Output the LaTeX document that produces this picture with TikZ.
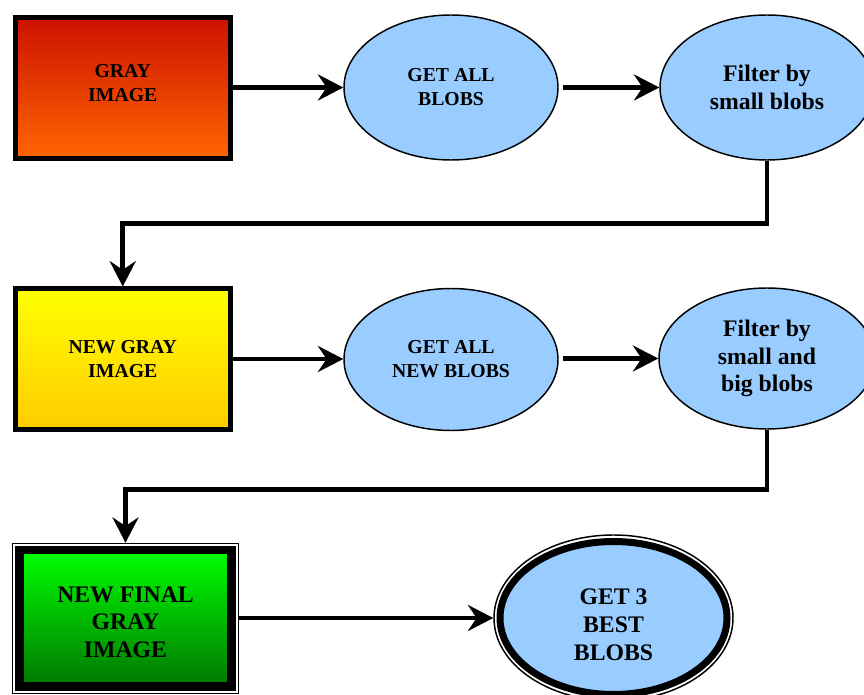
\documentclass[tikz,border=0pt]{standalone}
\usepackage{fontspec}
\setmainfont{Liberation Serif}
\usetikzlibrary{shapes.geometric,arrows.meta}
\definecolor{blobblue}{RGB}{153,204,255}
\definecolor{redtop}{RGB}{204,17,0}
\definecolor{redbot}{RGB}{255,102,0}
\definecolor{yeltop}{RGB}{255,255,0}
\definecolor{yelbot}{RGB}{255,204,0}
\definecolor{grntop}{RGB}{0,255,0}
\definecolor{grnbot}{RGB}{0,119,0}
\begin{document}
\begin{tikzpicture}[x=0.75pt,y=-0.75pt,
  conn/.style={line width=3.6pt, -{Stealth[length=19pt,width=19.5pt,inset=6.5pt]}},
  smalltext/.style={font=\fontsize{14.8}{18}\selectfont\bfseries, align=center},
  bigtext/.style={font=\fontsize{17.8}{20.8}\selectfont\bfseries, align=center},
  imgbox/.style={rectangle, draw=black, line width=3.75pt, inner sep=0pt,
    minimum width=160.9pt},
  blob/.style={ellipse, draw=black, line width=1.1pt, fill=blobblue, inner sep=0pt}
]
\useasboundingbox (0,0) rectangle (864,695);

% row 1
\node[imgbox, minimum height=106.1pt, top color=redtop, bottom color=redbot]
  (b1) at (122.75,88.25) {};
\node[smalltext] (b1t) at ([yshift=3.75pt]b1.center) {GRAY\\IMAGE};
\node[blob, smalltext, minimum width=160.5pt, minimum height=108.75pt]
  (e1) at (451,87.5) {GET ALL\\BLOBS};
\node[blob, bigtext, minimum width=160.5pt, minimum height=108.75pt]
  (e2) at (767,87.5) {Filter by\\small blobs};

% row 2
\node[imgbox, smalltext, minimum height=105pt, top color=yeltop, bottom color=yelbot]
  (b2) at (122.75,359) {NEW GRAY\\IMAGE};
\node[blob, smalltext, minimum width=160.5pt, minimum height=106.5pt]
  (e3) at (451,359.5) {GET ALL\\NEW BLOBS};
\node[blob, bigtext, minimum width=162pt, minimum height=105.75pt]
  (e4) at (767,358.5) {Filter by\\small and\\big blobs};

% row 3
\node[rectangle, draw=black, line width=1.1pt, inner sep=0pt,
  minimum width=169.5pt, minimum height=112.5pt] (b3o) at (125.5,618.5) {};
\node[rectangle, draw=black, line width=6.4pt, inner sep=0pt,
  minimum width=159pt, minimum height=102.4pt, top color=grntop, bottom color=grnbot]
  (b3) at (125.5,618.25) {};
\node[bigtext] (b3t) at ([yshift=-3pt]b3.center) {NEW FINAL\\GRAY\\IMAGE};
\node[ellipse, draw=black, line width=1.1pt, inner sep=0pt,
  minimum width=179.25pt, minimum height=124.5pt] (e5o) at (613.5,618) {};
\node[ellipse, draw=black, line width=5.25pt, fill=blobblue, inner sep=0pt,
  minimum width=170.25pt, minimum height=114.75pt] (e5) at (613.5,618) {};
\node[bigtext] (e5t) at ([yshift=-5pt]e5.center) {GET 3\\BEST\\BLOBS};

% connectors
\draw[conn] (b1.east |- e1.center) -- (e1.west);
\draw[conn, shorten <=3pt] (e1.east) -- (e2.west);
\draw[conn] (e2.south) -- ++(0,63) -| (b2.north);
\draw[conn] (b2.east) -- (b2.east -| e3.west);
\draw[conn, shorten <=3pt] (e3.east |- e4.west) -- (e4.west);
\draw[conn] (e4.south) -- ++(0,60) -| (b3o.north);
\draw[conn] (b3o.east |- e5o.west) -- (e5o.west);
\end{tikzpicture}
\end{document}
